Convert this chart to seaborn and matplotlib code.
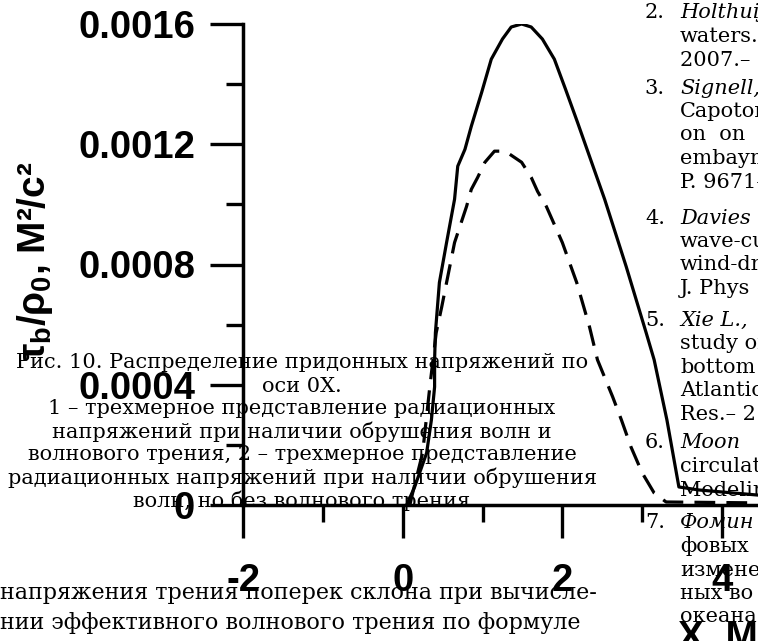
import matplotlib
matplotlib.use("Agg")
import matplotlib.pyplot as plt
import seaborn as sns
import pandas as pd

# ---------------- data ----------------
x_solid = [0.05, 0.15, 0.30, 0.36, 0.40, 0.40, 0.41, 0.46, 0.55, 0.65, 0.69, 0.78, 0.86, 0.99,
           1.11, 1.25, 1.36, 1.49, 1.61, 1.75, 1.90, 2.04, 2.19, 2.53, 2.80, 3.05, 3.15, 3.31,
           3.46, 3.71, 4.45]
y_solid = [0.0, 0.00006, 0.000173, 0.000283, 0.000393, 0.000483, 0.000573, 0.00074, 0.000873,
           0.001017, 0.001127, 0.001183, 0.00126, 0.001373, 0.001483, 0.00155, 0.00159, 0.0016,
           0.00159, 0.00155, 0.001483, 0.001383, 0.001273, 0.001017, 0.000793, 0.000573,
           0.000483, 0.000283, 0.00006, 0.00005, 0.000033]

x_dash = [0.09, 0.125, 0.25, 0.34, 0.42, 0.49, 0.55, 0.65, 0.80, 0.86, 0.94, 1.03, 1.15, 1.24,
          1.34, 1.49, 1.61, 1.69, 1.80, 2.00, 2.18, 2.34, 2.44, 2.63, 2.74, 2.86, 3.00, 3.15,
          3.30, 4.45]
y_dash = [0.0, 0.00004, 0.000173, 0.000393, 0.000573, 0.00066, 0.00074, 0.000873, 0.000993,
          0.00105, 0.00109, 0.00114, 0.001177, 0.001177, 0.001167, 0.00114, 0.00109, 0.001043,
          0.000993, 0.000873, 0.00074, 0.000593, 0.000483, 0.00036, 0.000283, 0.000193,
          0.000107, 0.00004, 0.00001, 0.000007]

x_ticks = [-2, 0, 2, 4]
x_tick_labels = ["-2", "0", "2", "4"]
x_minor = [-1, 1, 3]
y_ticks = [0, 0.0004, 0.0008, 0.0012, 0.0016]
y_tick_labels = ["0", "0.0004", "0.0008", "0.0012", "0.0016"]
y_minor = [0.0002, 0.0006, 0.0010, 0.0014]

y_label = r"$\tau_b/\rho_0$, M²/c²"
x_label = "X, M"

caption_lines = [
    "Рис. 10. Распределение придонных напряжений по",
    "оси 0X.",
    "1 – трехмерное представление радиационных",
    "напряжений при наличии обрушения волн и",
    "волнового трения, 2 – трехмерное представление",
    "радиационных напряжений при наличии обрушения",
    "волн, но без волнового трения",
]
body_lines = [
    "напряжения трения поперек склона при вычисле-",
    "нии эффективного волнового трения по формуле",
]
ref_numbers = ["2.", "3.", "4.", "5.", "6.", "7.", "8."]
ref_lines = [
    ["Holthuijsen", "waters.–", "2007.– 3"],
    ["Signell,", "Capotondi", "on  on", "embaymen", "P. 9671–"],
    ["Davies", "wave-cur", "wind-dri", "J. Phys"],
    ["Xie L.,", "study of", "bottom", "Atlantic", "Res.– 2"],
    ["Moon", "circulat", "Modelin"],
    ["Фомин", "фовых", "изменен", "ных во", "океана"],
    ["Xie L.,"],
]
ref_start_y = [13, 88, 218, 320, 443, 523, 650]

# ---------------- figure ----------------
sns.set_style("ticks")
plt.rcParams["font.family"] = ["Liberation Sans", "DejaVu Sans"]
plt.rcParams["mathtext.fontset"] = "custom"
plt.rcParams["mathtext.rm"] = "Liberation Sans:bold"
plt.rcParams["mathtext.it"] = "Liberation Sans:bold"
plt.rcParams["mathtext.bf"] = "Liberation Sans:bold"
plt.rcParams["text.color"] = "black"
plt.rcParams["axes.edgecolor"] = "black"
plt.rcParams["xtick.color"] = "black"
plt.rcParams["ytick.color"] = "black"
plt.rcParams["xtick.labelcolor"] = "black"
plt.rcParams["ytick.labelcolor"] = "black"

W, H = 758, 641
fig = plt.figure(figsize=(W / 100, H / 100), dpi=100)
fig.patch.set_facecolor("white")

def P(x, y):
    return x / W, 1 - y / H

x0_px, x4_px = 243, 722
y0_px, ytop_px = 505, 24
ppu = (x4_px - x0_px) / 6.0
xmax = -2 + (W - x0_px) / ppu
ax = fig.add_axes([x0_px / W, 1 - y0_px / H, (W - x0_px) / W, (y0_px - ytop_px) / H])
ax.set_facecolor("none")

df1 = pd.DataFrame({"x": x_solid, "y": y_solid})
df2 = pd.DataFrame({"x": x_dash, "y": y_dash})
sns.lineplot(data=df1, x="x", y="y", ax=ax, color="black", lw=2.3, sort=False,
             estimator=None)
sns.lineplot(data=df2, x="x", y="y", ax=ax, color="black", lw=2.3, sort=False,
             estimator=None, linestyle=(0, (6.5, 3.5)))

ax.set_xlim(-2, xmax)
ax.set_ylim(0, 0.0016)
for s in ["top", "right"]:
    ax.spines[s].set_visible(False)
for s in ["left", "bottom"]:
    ax.spines[s].set_linewidth(2.5)
    ax.spines[s].set_color("black")

ax.set_xticks(x_ticks)
ax.set_xticklabels(x_tick_labels)
ax.set_xticks(x_minor, minor=True)
ax.set_yticks(y_ticks)
ax.set_yticklabels(y_tick_labels)
ax.set_yticks(y_minor, minor=True)
ax.tick_params(which="major", direction="out", length=23.5, width=2.4, labelsize=27.5,
               color="black", labelcolor="black")
ax.tick_params(which="minor", direction="out", length=12, width=2.4, color="black")
ax.tick_params(axis="x", which="major", pad=18)
ax.tick_params(axis="y", which="major", pad=11)
for lab in ax.get_xticklabels() + ax.get_yticklabels():
    lab.set_fontweight("bold")
ax.set_xlabel("")
ax.set_ylabel("")

fig.text(*P(35, 261), y_label, rotation=90, ha="center", va="center",
         fontsize=28, fontweight="bold", color="black")
fig.text(*P(678, 620), x_label, ha="left", va="top", fontsize=28, fontweight="bold",
         color="black")

serif = ["DejaVu Serif"]
cap_y0, cap_dy = 363, 23
for i, line in enumerate(caption_lines):
    fig.text(*P(302, cap_y0 + i * cap_dy), line, ha="center", va="center",
             fontsize=15, family=serif, color="black")

for i, line in enumerate(body_lines):
    fig.text(*P(0, 593 + i * 30), line, ha="left", va="center", fontsize=16,
             family=serif, color="black")

ref_dy = 23.5
for num, lines, y in zip(ref_numbers, ref_lines, ref_start_y):
    fig.text(*P(665, y), num, ha="right", va="center", fontsize=15, family=serif,
             color="black")
    for j, line in enumerate(lines):
        fig.text(*P(680, y + j * ref_dy), line, ha="left", va="center", fontsize=15,
                 family=serif, color="black",
                 style="italic" if j == 0 else "normal")

fig.savefig("out.png", dpi=100)
